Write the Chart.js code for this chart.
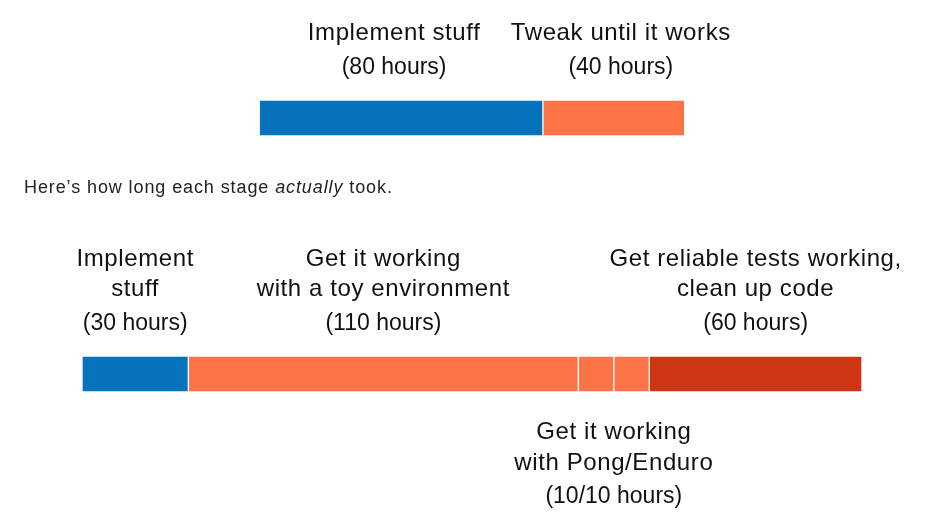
<!DOCTYPE html>
<html>
<head>
<meta charset="utf-8">
<script src="https://cdn.jsdelivr.net/npm/chart.js@4"></script>
<style>
  html, body { margin: 0; padding: 0; background: #fff; }
  #wrap { position: relative; width: 932px; height: 513px; }
  #caption {
    position: absolute; left: 24px; top: 177px;
    font: 18px "Liberation Sans", Arial, sans-serif; color: #222;
    letter-spacing: 0.9px;
  }
</style>
</head>
<body>
<div id="wrap">
  <canvas id="stagesChart" width="932" height="513"></canvas>
  <div id="caption">Here’s how long each stage <i>actually</i> took.</div>
</div>
<script>
// planned vs actual hours per stage
const rows = ['Planned', 'Actual'];
const plannedStages = ['Implement stuff', 'Tweak until it works'];
const plannedHours = [80, 40];
const actualStages = ['Implement stuff', 'Get it working with a toy environment', 'Get it working with Pong', 'Get it working with Enduro', 'Get reliable tests working, clean up code'];
const actualHours = [30, 110, 10, 10, 60];

const blue = '#0473bc';
const orange = '#fb7447';
const darkRed = '#cd3513';
const plannedColors = [blue, orange];
const actualColors = [blue, orange, orange, orange, darkRed];

const sum = arr => arr.reduce((a, b) => a + b, 0);
const actualTotal = sum(actualHours);
// the planned bar sits centred over the actual one
const plannedStart = (actualTotal - sum(plannedHours)) / 2;

function segments(hours, start) {
    let pos = start;
    return hours.map(h => { const s = [pos, pos + h]; pos += h; return s; });
}

const datasets = [];
segments(plannedHours, plannedStart).forEach((seg, i) => {
    datasets.push({ label: plannedStages[i], data: [seg, null], backgroundColor: plannedColors[i] });
});
segments(actualHours, 0).forEach((seg, i) => {
    datasets.push({ label: actualStages[i], data: [null, seg], backgroundColor: actualColors[i] });
});

// text above / below the bars: dataset range, row, lines (dx nudges the top pair apart)
const notes = [
    { from: 0, to: 0, row: 0, side: 'above', dx: -7, lines: ['Implement stuff'], hours: '(80 hours)' },
    { from: 1, to: 1, row: 0, side: 'above', dx: 7, lines: ['Tweak until it works'], hours: '(40 hours)' },
    { from: 2, to: 2, row: 1, side: 'above', lines: ['Implement', 'stuff'], hours: '(30 hours)' },
    { from: 3, to: 3, row: 1, side: 'above', lines: ['Get it working', 'with a toy environment'], hours: '(110 hours)' },
    { from: 6, to: 6, row: 1, side: 'above', lines: ['Get reliable tests working,', 'clean up code'], hours: '(60 hours)' },
    { from: 4, to: 5, row: 1, side: 'below', lines: ['Get it working', 'with Pong/Enduro'], hours: '(10/10 hours)' }
];

const titleFont = '24px "Liberation Sans", Arial, sans-serif';
const hoursFont = '23px "Liberation Sans", Arial, sans-serif';

const stageLabels = {
    id: 'stageLabels',
    afterDatasetsDraw(chart) {
        const ctx = chart.ctx;
        ctx.save();
        ctx.fillStyle = '#111';
        ctx.textAlign = 'center';
        ctx.textBaseline = 'middle';
        const title = (t, x, y) => { ctx.font = titleFont; ctx.letterSpacing = '0.6px'; ctx.fillText(t, x, y); };
        const hours = (t, x, y) => { ctx.font = hoursFont; ctx.letterSpacing = '0px'; ctx.fillText(t, x, y); };
        notes.forEach(n => {
            const a = chart.getDatasetMeta(n.from).data[n.row];
            const b = chart.getDatasetMeta(n.to).data[n.row];
            const cx = (Math.min(a.x, a.base) + Math.max(b.x, b.base)) / 2 + (n.dx || 0);
            const half = a.height / 2;
            if (n.side === 'above') {
                const top = a.y - half;
                hours(n.hours, cx, top - 32);
                n.lines.slice().reverse().forEach((t, k) => title(t, cx, top - 67 - k * 30));
            } else {
                const bottom = a.y + half;
                n.lines.forEach((t, k) => title(t, cx, bottom + 40 + k * 31));
                hours(n.hours, cx, bottom + 40 + (n.lines.length - 1) * 31 + 34);
            }
        });
        ctx.restore();
    }
};

new Chart(document.getElementById('stagesChart'), {
    type: 'bar',
    data: { labels: rows, datasets: datasets },
    options: {
        indexAxis: 'y',
        responsive: false,
        animation: false,
        layout: { padding: { left: 82, right: 70, top: 118, bottom: 139 } },
        datasets: {
            bar: { grouped: false, barThickness: 36, borderWidth: 1, borderColor: '#fff', borderSkipped: false, clip: false }
        },
        scales: {
            x: { display: false, min: 0, max: actualTotal },
            y: { display: false, offset: false }
        },
        plugins: { legend: { display: false }, tooltip: { enabled: false } }
    },
    plugins: [stageLabels]
});
</script>
</body>
</html>
